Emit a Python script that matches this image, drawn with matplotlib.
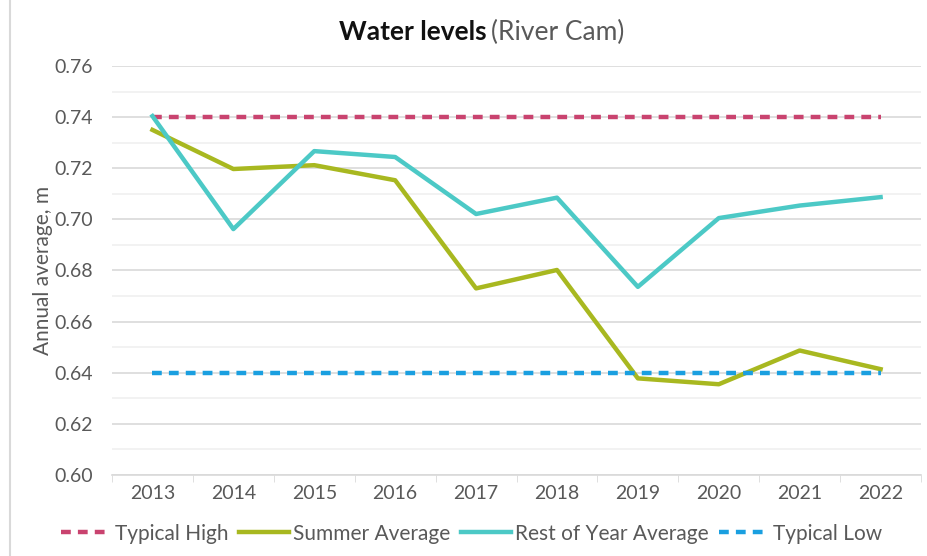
import matplotlib.pyplot as plt
from matplotlib.lines import Line2D
from matplotlib.ticker import MultipleLocator

years = ['2013', '2014', '2015', '2016', '2017', '2018', '2019', '2020', '2021', '2022']
typical_high = [0.74] * 10
summer_avg = [0.735, 0.7197, 0.7212, 0.7153, 0.6730, 0.6802, 0.6378, 0.6355, 0.6487, 0.6414]
rest_of_year = [0.7404, 0.6962, 0.7267, 0.7244, 0.7021, 0.7085, 0.6736, 0.7005, 0.7054, 0.7087]
typical_low = [0.64] * 10

plt.rcParams['font.family'] = ['Lato', 'DejaVu Sans']

fig = plt.figure(figsize=(9.28, 5.56), dpi=100)
ax = fig.add_axes([0.1207, 0.1457, 0.8718, 0.7356])

x = list(range(len(years)))
ax.plot(x, typical_high, color='#C9436F', lw=3.2, ls=(0, (2.2, 1.6)), label='Typical High')
ax.plot(x, summer_avg, color='#A8B820', lw=3.2, label='Summer Average')
ax.plot(x, rest_of_year, color='#4CC9C6', lw=3.2, label='Rest of Year Average')
ax.plot(x, typical_low, color='#1A9FE0', lw=3.2, ls=(0, (2.2, 1.6)), label='Typical Low')

ax.set_xlim(-0.5, len(years) - 0.5)
ax.set_ylim(0.60, 0.76)
ax.yaxis.set_major_locator(MultipleLocator(0.02))
ax.yaxis.set_minor_locator(MultipleLocator(0.01))
ax.set_yticklabels([f'{v:.2f}' for v in ax.get_yticks()])
ax.grid(axis='y', which='major', color='#d9d9d9', lw=1.2)
ax.grid(axis='y', which='minor', color='#f0f0f0', lw=1.2)
ax.set_axisbelow(True)

ax.set_xticks(x)
ax.set_xticklabels(years)
ax.set_xticks([i - 0.5 for i in range(len(years) + 1)], minor=True)
ax.tick_params(axis='x', which='major', length=0, pad=7, labelsize=14, colors='#595959')
ax.tick_params(axis='x', which='minor', length=5, color='#d9d9d9')
ax.tick_params(axis='y', which='both', length=0, pad=14, labelsize=14, colors='#595959')

for s in ['top', 'right', 'left']:
    ax.spines[s].set_visible(False)
ax.spines['bottom'].set_color('#d9d9d9')
ax.spines['bottom'].set_linewidth(1.2)

ax.set_ylabel('Annual average, m', fontsize=15, color='#595959', labelpad=1)

fig.text(0.524, 0.942, 'Water levels', ha='right', va='center', fontsize=19, fontweight='bold', color='#111111')
fig.text(0.529, 0.942, '(River Cam)', ha='left', va='center', fontsize=19, color='#595959')

fig.legend(loc='center', bbox_to_anchor=(0.508, 0.04), ncol=4, frameon=False,
           fontsize=15, handlelength=2.4, handletextpad=0.2, columnspacing=0.5,
           labelcolor='#595959')

fig.add_artist(Line2D([0.011, 0.011], [0, 1], transform=fig.transFigure, color='#d9d9d9', lw=1.5))

fig.savefig('out.png', dpi=100)
